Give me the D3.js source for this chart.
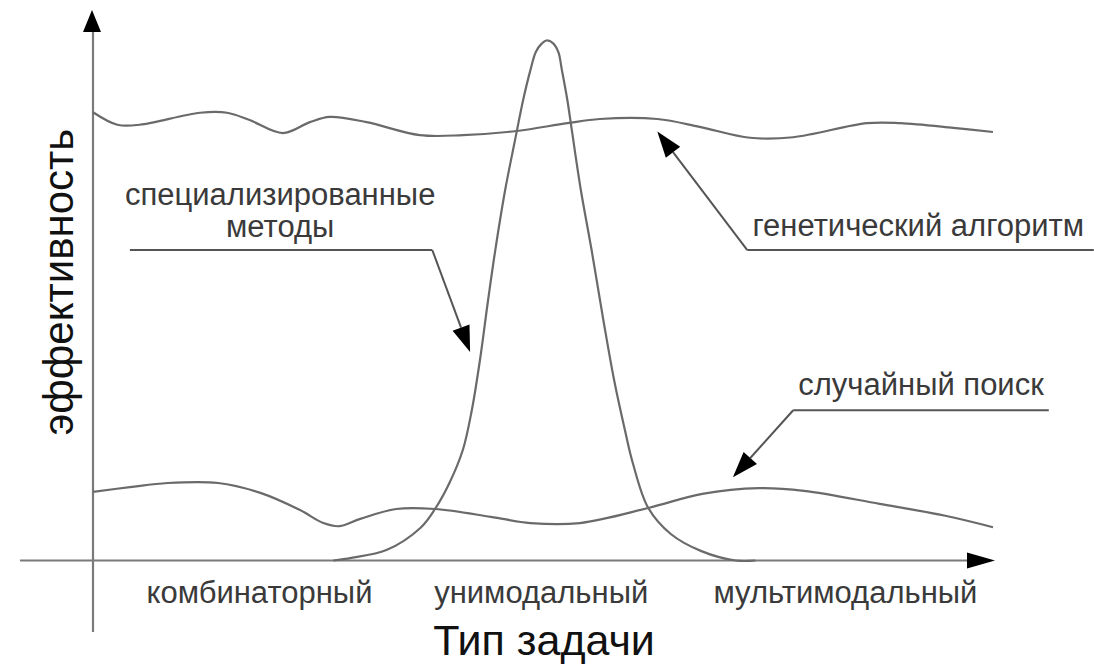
<!DOCTYPE html>
<html><head><meta charset="utf-8">
<script src="https://cdn.jsdelivr.net/npm/d3@7"></script>
<style>html,body{margin:0;padding:0;background:#fff;}svg{display:block;}</style>
</head><body>
<svg id="chart" width="1094" height="667"></svg>
<script>
// ---- data (x: task type continuum 0..100, y: efficiency 0..100) ----
const categories = ["комбинаторный", "унимодальный", "мультимодальный"];
const categoryPos = [18.5, 49.8, 83.6];
const xTitle = "Тип задачи";
const yTitle = "эффективность";

const geneticX = [0, 2.7, 5.2, 11.9, 14.9, 17.4, 21.1, 24.1, 26.3, 30.4, 36.3, 41.1, 47.1, 52.7, 56.3, 62.7, 67.4, 73, 77.8, 86, 89.7, 95.6, 100];
const geneticY = [86.2, 83.8, 83.8, 86.1, 86.1, 84.7, 82.2, 84.3, 85.3, 84.3, 81.8, 81.8, 82.6, 84.1, 84.9, 84.9, 83.4, 81.3, 81.4, 84.1, 84.1, 83.2, 82.4];

const randomX = [0, 4.1, 8.3, 13.9, 18.6, 23, 25.6, 27.4, 29.7, 33.7, 38, 44.2, 48.6, 54.1, 61.7, 67.7, 74, 79, 87.4, 94.7, 100];
const randomY = [13.2, 14.1, 14.9, 14.9, 13, 9.7, 7.2, 6.6, 8, 9.9, 9.9, 8.4, 7.2, 7.2, 10.1, 12.8, 13.9, 13.4, 10.9, 8.6, 6.4];

const specialX = [26.7, 28.7, 32.6, 36.4, 38, 39.6, 41.1, 42.1, 43, 43.9, 44.7, 45.8, 46.9, 47.8, 48.6, 49.2, 49.8, 50.4, 51.1, 51.7, 52.1, 52.7, 53.2, 54.2, 55.4, 56.7, 57.9, 59.1, 60, 61.7, 64.2, 67.6, 71.4, 73.6];
const specialY = [0, 0.5, 2, 6.3, 9.9, 14.9, 21.3, 29, 38.6, 50.1, 59.7, 71.3, 80.9, 88.6, 94.3, 97.8, 99.3, 100, 99.5, 97.8, 94.3, 88.6, 82.8, 71.3, 59.7, 46.3, 34.7, 25.1, 18.6, 10.1, 5.1, 1.8, 0, 0];

// annotations: label lines, leader shelf and arrow target, in data units
const annotations = [
  {lines: ["генетический алгоритм"], textX: 91.7, baseY: [62.5],
   shelf: [72.7, 111.2], shelfY: 59.7, tip: [62.7, 82.5]},
  {lines: ["специализированные", "методы"], textX: 20.8, baseY: [68.4, 62.3],
   shelf: [4.1, 37.7], shelfY: 59.7, tip: [41.9, 40.1], elbowRight: true},
  {lines: ["случайный поиск"], textX: 92.0, baseY: [31.8],
   shelf: [77.8, 106.2], shelfY: 28.9, tip: [71.1, 16.0]}
];

// ---- layout ----
const svg = d3.select("#chart");
const x = d3.scaleLinear().domain([0, 100]).range([93, 993]);
const y = d3.scaleLinear().domain([0, 100]).range([560.5, 40.5]);

const font = "'Liberation Sans', Arial, sans-serif";
const axisColor = "#7a7a7a";
const curveColor = "#6a6a6a";

// axes
svg.append("line").attr("x1", 20).attr("x2", 975).attr("y1", y(0)).attr("y2", y(0))
  .attr("stroke", axisColor).attr("stroke-width", 2.2);
svg.append("path").attr("d", `M${x(0)+902},${y(0)} l-28,-8 l0,16 z`).attr("fill", "#000");
svg.append("line").attr("x1", x(0)).attr("x2", x(0)).attr("y1", 632).attr("y2", 28)
  .attr("stroke", axisColor).attr("stroke-width", 2.2);
svg.append("path").attr("d", `M${x(0)-1},10 l-9,22 l18,0 z`).attr("fill", "#000");

// curves
const line = d3.line().x(d => x(d[0])).y(d => y(d[1])).curve(d3.curveCatmullRom.alpha(0.5));
const series = [
  [geneticX, geneticY],
  [randomX, randomY],
  [specialX, specialY]
];
series.forEach(([xs, ys]) => {
  svg.append("path").datum(xs.map((v, i) => [v, ys[i]]))
    .attr("d", line).attr("fill", "none")
    .attr("stroke", curveColor).attr("stroke-width", 2.2);
});

// category labels
svg.selectAll("text.cat").data(categories).enter().append("text")
  .attr("class", "cat")
  .attr("x", (d, i) => x(categoryPos[i])).attr("y", 603)
  .attr("text-anchor", "middle").attr("font-family", font).attr("font-size", 31)
  .attr("fill", "#3a3a3a").text(d => d);

// axis titles
svg.append("text").attr("x", 544).attr("y", 655).attr("text-anchor", "middle")
  .attr("font-family", font).attr("font-size", 43).attr("fill", "#111").text(xTitle);
svg.append("text").attr("transform", "translate(73,282) rotate(-90)").attr("text-anchor", "middle")
  .attr("font-family", font).attr("font-size", 42).attr("fill", "#111").text(yTitle);

// annotations
const leaderColor = "#555";
annotations.forEach(a => {
  a.lines.forEach((t, i) => {
    svg.append("text").attr("x", x(a.textX)).attr("y", y(a.baseY[i]))
      .attr("text-anchor", "middle").attr("font-family", font).attr("font-size", 31)
      .attr("fill", "#3a3a3a").text(t);
  });
  const ex = a.elbowRight ? a.shelf[1] : a.shelf[0];
  const sy = y(a.shelfY);
  svg.append("line").attr("x1", x(a.shelf[0])).attr("x2", x(a.shelf[1]))
    .attr("y1", sy).attr("y2", sy).attr("stroke", leaderColor).attr("stroke-width", 2);
  const tx = x(a.tip[0]), ty = y(a.tip[1]);
  const ang = Math.atan2(ty - sy, tx - x(ex));
  const L = 26, W = 9;
  const bx = tx - L * Math.cos(ang), by = ty - L * Math.sin(ang);
  svg.append("line").attr("x1", x(ex)).attr("y1", sy).attr("x2", bx).attr("y2", by)
    .attr("stroke", leaderColor).attr("stroke-width", 2);
  const px = -Math.sin(ang) * W, py = Math.cos(ang) * W;
  svg.append("path").attr("d", `M${tx},${ty} L${bx+px},${by+py} L${bx-px},${by-py} Z`).attr("fill", "#000");
});
</script>
</body></html>
